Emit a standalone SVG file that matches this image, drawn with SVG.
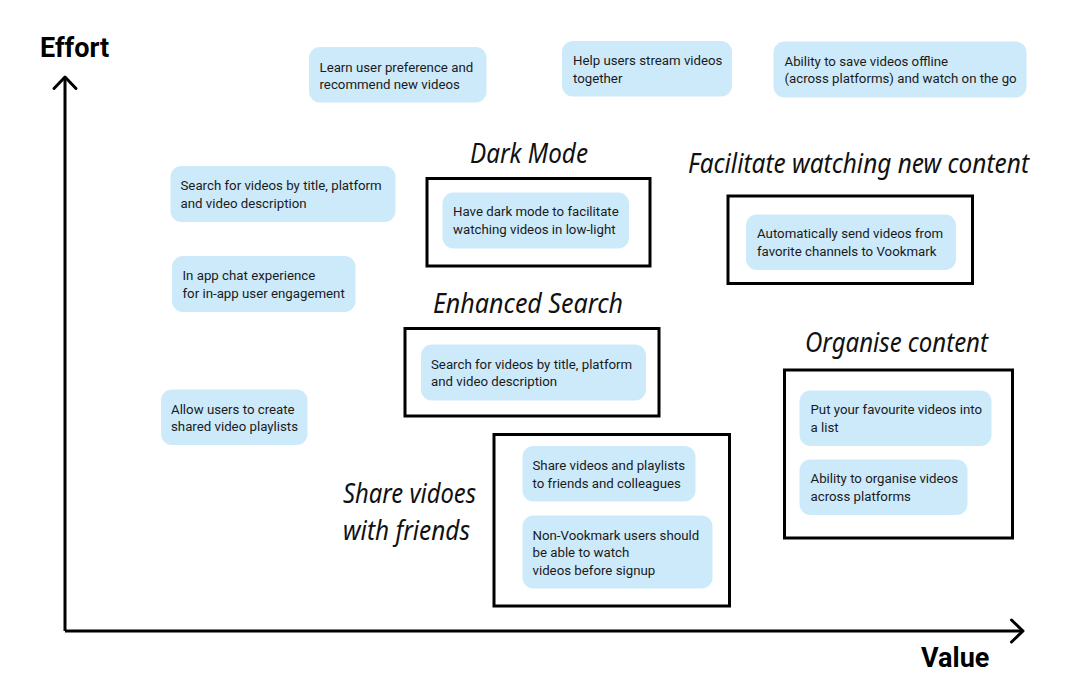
<svg xmlns="http://www.w3.org/2000/svg" width="1080" height="688" viewBox="0 0 1080 688">
<style>
.note{fill:#cdeafb;}
.nt{font-family:Roboto,"Liberation Sans",sans-serif;font-size:13.25px;fill:#1a1a1a;}
.grp{fill:none;stroke:#000;stroke-width:3;}
.hand{font-family:"Noto Sans","DejaVu Sans",sans-serif;font-style:italic;font-size:27px;fill:#111;}
.axl{font-family:Roboto,"Liberation Sans",sans-serif;font-weight:bold;font-size:27px;fill:#000;}
.axis{fill:none;stroke:#000;stroke-width:3;}
</style>
<defs>
<marker id="chev" viewBox="-14 -14 28 28" refX="0" refY="0" markerWidth="28" markerHeight="28" markerUnits="userSpaceOnUse" orient="auto">
<path d="M-11.5,-11 L0,0 L-11.5,11" fill="none" stroke="#000" stroke-width="3" stroke-linecap="round" stroke-linejoin="round"/>
</marker>
</defs>
<rect width="1080" height="688" fill="#fff"/>

<g id="connectors">
<path class="axis" d="M65,631 L65,77" marker-end="url(#chev)"/>
<path class="axis" d="M65,631 L1023,631" marker-end="url(#chev)"/>
</g>

<g id="axis-labels">
<text class="axl" x="40" y="57">Effort</text>
<text class="axl" x="921" y="667">Value</text>
</g>

<g id="group-dark-mode">
<text class="hand" x="470" y="163" textLength="118" lengthAdjust="spacingAndGlyphs">Dark Mode</text>
<rect class="grp" x="427" y="178.5" width="223" height="87.5"/>
</g>
<g id="group-facilitate">
<text class="hand" x="688" y="173" textLength="341" lengthAdjust="spacingAndGlyphs">Facilitate watching new content</text>
<rect class="grp" x="728" y="196" width="244.5" height="87.5"/>
</g>
<g id="group-enhanced-search">
<text class="hand" x="433" y="313" textLength="190" lengthAdjust="spacingAndGlyphs">Enhanced Search</text>
<rect class="grp" x="405" y="328.5" width="254" height="87.5"/>
</g>
<g id="group-organise">
<text class="hand" x="805" y="351.5" textLength="183" lengthAdjust="spacingAndGlyphs">Organise content</text>
<rect class="grp" x="784.5" y="370" width="228" height="168"/>
</g>
<g id="group-share">
<text class="hand" x="343" y="503" textLength="133" lengthAdjust="spacingAndGlyphs">Share vidoes</text>
<text class="hand" x="343" y="540" textLength="127" lengthAdjust="spacingAndGlyphs">with friends</text>
<rect class="grp" x="494" y="434.5" width="235.5" height="171.5"/>
</g>

<g id="note-learn">
<rect class="note" x="309" y="47" width="177.5" height="55.5" rx="11"/>
<text class="nt" x="319.5"><tspan x="319.5" y="71.5">Learn user preference and</tspan><tspan x="319.5" y="89">recommend new videos</tspan></text>
</g>
<g id="note-stream">
<rect class="note" x="562" y="41" width="170" height="55.5" rx="11"/>
<text class="nt"><tspan x="573" y="65">Help users stream videos</tspan><tspan x="573" y="82.5">together</tspan></text>
</g>
<g id="note-offline">
<rect class="note" x="773.5" y="41.5" width="253" height="56" rx="11"/>
<text class="nt"><tspan x="784.5" y="65.5">Ability to save videos offline</tspan><tspan x="784.5" y="83">(across platforms) and watch on the go</tspan></text>
</g>
<g id="note-search-left">
<rect class="note" x="170.5" y="166" width="225" height="56" rx="11"/>
<text class="nt"><tspan x="180.5" y="190">Search for videos by title, platform</tspan><tspan x="180.5" y="207.5">and video description</tspan></text>
</g>
<g id="note-chat">
<rect class="note" x="172" y="256" width="183.5" height="56" rx="11"/>
<text class="nt"><tspan x="182.5" y="280">In app chat experience</tspan><tspan x="182.5" y="297.5">for in-app user engagement</tspan></text>
</g>
<g id="note-dark">
<rect class="note" x="442.5" y="192.5" width="186.5" height="56" rx="11"/>
<text class="nt"><tspan x="453" y="216">Have dark mode to facilitate</tspan><tspan x="453" y="233.5">watching videos in low-light</tspan></text>
</g>
<g id="note-auto-send">
<rect class="note" x="746" y="214.5" width="210" height="55.5" rx="11"/>
<text class="nt"><tspan x="757" y="238">Automatically send videos from</tspan><tspan x="757" y="255.5">favorite channels to Vookmark</tspan></text>
</g>
<g id="note-search-enhanced">
<rect class="note" x="421" y="344.5" width="225" height="56" rx="11"/>
<text class="nt"><tspan x="431" y="368.5">Search for videos by title, platform</tspan><tspan x="431" y="386">and video description</tspan></text>
</g>
<g id="note-playlists">
<rect class="note" x="161" y="389.5" width="146.5" height="55.5" rx="11"/>
<text class="nt"><tspan x="171" y="413.5">Allow users to create</tspan><tspan x="171" y="431">shared video playlists</tspan></text>
</g>
<g id="note-share">
<rect class="note" x="522.5" y="446" width="173" height="55.5" rx="11"/>
<text class="nt"><tspan x="532.5" y="470">Share videos and playlists</tspan><tspan x="532.5" y="487.5">to friends and colleagues</tspan></text>
</g>
<g id="note-non-vookmark">
<rect class="note" x="522.5" y="515.5" width="190" height="73" rx="11"/>
<text class="nt"><tspan x="532.5" y="539.5">Non-Vookmark users should</tspan><tspan x="532.5" y="557">be able to watch</tspan><tspan x="532.5" y="574.5">videos before signup</tspan></text>
</g>
<g id="note-favourites">
<rect class="note" x="799.5" y="390.5" width="192" height="55.5" rx="11"/>
<text class="nt"><tspan x="810.5" y="414">Put your favourite videos into</tspan><tspan x="810.5" y="431.5">a list</tspan></text>
</g>
<g id="note-organise">
<rect class="note" x="799.5" y="459.5" width="168" height="55.5" rx="11"/>
<text class="nt"><tspan x="810.5" y="483">Ability to organise videos</tspan><tspan x="810.5" y="500.5">across platforms</tspan></text>
</g>
</svg>
